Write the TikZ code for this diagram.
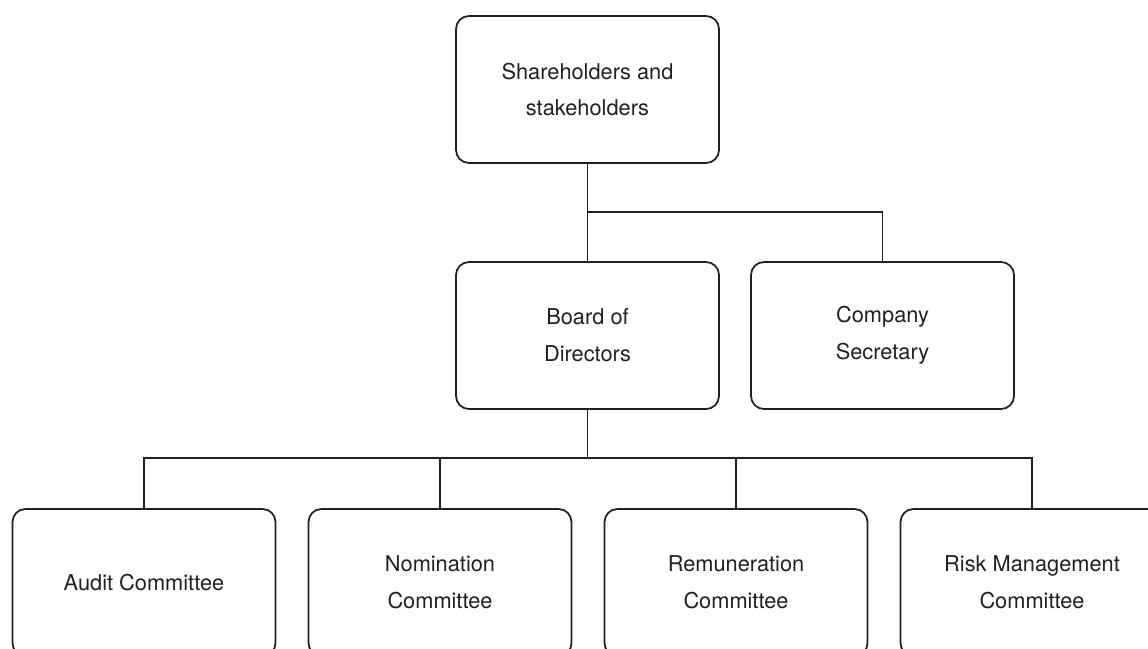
\documentclass[tikz,border=0pt]{standalone}
\usepackage{fontspec}
\setmainfont{TeX Gyre Heros}
\usepackage{tikz}
\definecolor{ink}{HTML}{231F20}

\begin{document}
\begin{tikzpicture}[orgbox/.style={draw=ink, line width=1pt, rounded corners=0.26cm, minimum width=5.26cm, minimum height=2.94cm, inner sep=0pt, align=center, text=ink, font=\fontsize{12.4}{21}\selectfont}, link/.style={draw=ink, line width=1pt}]
				\useasboundingbox (0,0) rectangle (22.96,-12.96);
				\node[orgbox] (share) at (11.75, -1.79) {Shareholders and\\stakeholders};
				\node[orgbox] (board) at (11.75, -6.71) {Board of\\Directors};
				\node[orgbox] (sec) at (17.65, -6.71) {Company\\Secretary};
				\node[orgbox] (audit) at (2.88, -11.65) {Audit Committee};
				\node[orgbox] (nom) at (8.80, -11.65) {Nomination\\Committee};
				\node[orgbox] (rem) at (14.72, -11.65) {Remuneration\\Committee};
				\node[orgbox] (risk) at (20.64, -11.65) {Risk Management\\Committee};
				\coordinate (topbus) at (11.75, -4.24);
				\coordinate (lowbus) at (11.75, -9.16);
				\draw[link] (share) -- (board);
				\draw[link] (topbus) -| (sec);
				\draw[link] (board) -- (lowbus);
				\draw[link] (audit) |- (lowbus -| risk) -- (risk);
				\draw[link] (nom) -- (nom |- lowbus);
				\draw[link] (rem) -- (rem |- lowbus);
			\end{tikzpicture}
\end{document}
